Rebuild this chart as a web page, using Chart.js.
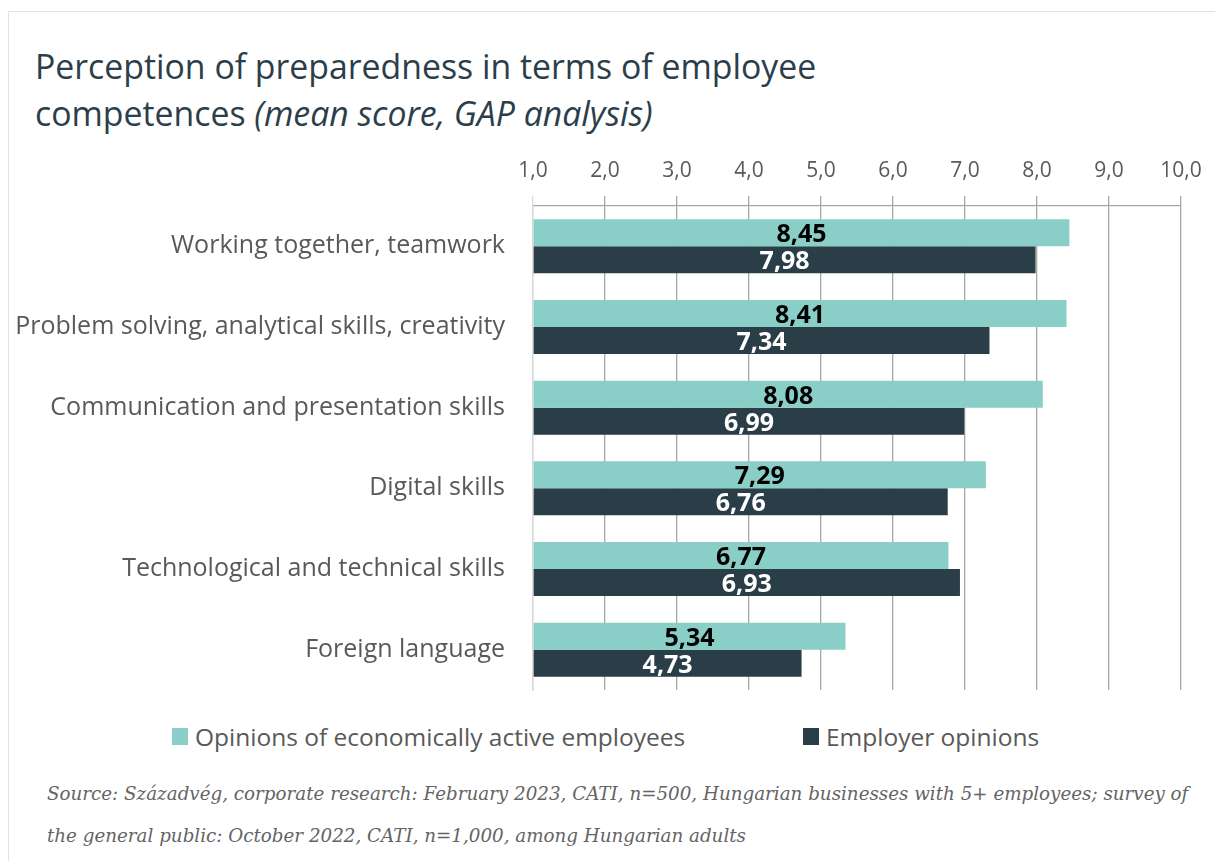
<!DOCTYPE html>
<html>
<head>
<meta charset="utf-8">
<script src="https://cdn.jsdelivr.net/npm/chart.js@4.4.1/dist/chart.umd.min.js"></script>
<style>
  html, body { margin: 0; padding: 0; background: #ffffff; }
  body { width: 1215px; height: 861px; position: relative; overflow: hidden; font-family: "Open Sans", sans-serif; }
  .card { position: absolute; left: 8px; top: 11px; right: 0; bottom: 0; border-left: 1px solid #e3e3e3; border-top: 1px solid #e3e3e3; }
  .title { position: absolute; left: 35px; top: 43px; font-size: 33.8px; line-height: 47px; color: #2b3e4a; white-space: nowrap; }
  .title i { font-style: italic; }
  #chartWrap { position: absolute; left: 0; top: 150px; width: 1215px; height: 545px; }
  .legend-item { position: absolute; top: 722px; height: 28px; display: flex; align-items: center; font-size: 24.5px; color: #595959; white-space: nowrap; }
  .legend-item span.box { width: 16px; height: 17px; margin-right: 7px; display: inline-block; }
  .source { position: absolute; left: 47px; top: 773px; font-family: "DejaVu Serif", serif; font-style: italic; font-size: 18.3px; line-height: 42px; color: #646464; white-space: nowrap; }
</style>
</head>
<body>
<div class="card"></div>
<div class="title">Perception of preparedness in terms of employee<br>competences <i>(mean score, GAP analysis)</i></div>
<div id="chartWrap"><canvas id="chart" width="1215" height="545"></canvas></div>
<div id="legend"></div>
<div class="source">Source: Századvég, corporate research: February 2023, CATI, n=500, Hungarian businesses with 5+ employees; survey of<br>the general public: October 2022, CATI, n=1,000, among Hungarian adults</div>
<script>
// Competence categories
const categories = [
  "Working together, teamwork",
  "Problem solving, analytical skills, creativity",
  "Communication and presentation skills",
  "Digital skills",
  "Technological and technical skills",
  "Foreign language"
];

// Mean scores per series
const employeeScores = [8.45, 8.41, 8.08, 7.29, 6.77, 5.34];
const employerScores = [7.98, 7.34, 6.99, 6.76, 6.93, 4.73];

const seriesNames = ["Opinions of economically active employees", "Employer opinions"];
const seriesColors = ["#89cfc7", "#2a3e48"];
const labelColors = ["#000000", "#ffffff"];

// Axis range and step
const axisMin = 1;
const axisMax = 10;
const axisStep = 1;

const fmt = v => v.toFixed(1).replace('.', ',');
const fmt2 = v => v.toFixed(2).replace('.', ',');

// Layout of the canvas relative to the page
const CANVAS_TOP = 150;
const PLOT_LEFT = 533;
const PLOT_TOP = 206;
const PAD = { top: 6, right: 34, bottom: 5, left: 0 };

// Value labels centred inside each bar
const valueLabels = {
  id: 'valueLabels',
  afterDatasetsDraw(chart) {
    const ctx = chart.ctx;
    ctx.save();
    ctx.font = 'bold 25px "Open Sans", sans-serif';
    ctx.textAlign = 'center';
    ctx.textBaseline = 'middle';
    chart.data.datasets.forEach((ds, di) => {
      const meta = chart.getDatasetMeta(di);
      meta.data.forEach((bar, i) => {
        const v = ds.data[i];
        const left = Math.max(bar.base, chart.chartArea.left);
        const cx = (bar.x + left) / 2;
        ctx.fillStyle = labelColors[di];
        ctx.fillText(fmt2(v), cx, bar.y + 2.5);
      });
    });
    ctx.restore();
  }
};

const chart = new Chart(document.getElementById('chart'), {
  type: 'bar',
  data: {
    labels: categories,
    datasets: [
      { label: seriesNames[0], data: employeeScores, backgroundColor: seriesColors[0], base: axisMin },
      { label: seriesNames[1], data: employerScores, backgroundColor: seriesColors[1], base: axisMin }
    ]
  },
  options: {
    indexAxis: 'y',
    responsive: false,
    animation: false,
    maintainAspectRatio: false,
    layout: { padding: PAD },
    datasets: { bar: { categoryPercentage: 0.67, barPercentage: 1.0 } },
    plugins: {
      legend: { display: false },
      tooltip: { enabled: false },
      title: { display: false }
    },
    scales: {
      x: {
        position: 'top',
        min: axisMin,
        max: axisMax,
        ticks: {
          stepSize: axisStep,
          padding: 12,
          color: '#595959',
          font: { family: '"Open Sans", sans-serif', size: 21 },
          callback: v => fmt(v)
        },
        grid: {
          color: ctx => (ctx.index === 0 ? '#d9d9d9' : '#a6a6a6'),
          lineWidth: 1.3,
          tickLength: 10,
          drawTicks: true
        },
        border: { display: true, color: '#a6a6a6', width: 1.3 },
        afterFit: scale => { scale.height = PLOT_TOP - CANVAS_TOP - PAD.top; }
      },
      y: {
        grid: { display: false },
        border: { display: true, color: '#d9d9d9', width: 1.5 },
        ticks: {
          padding: 20,
          color: '#595959',
          font: { family: '"Open Sans", sans-serif', size: 25 }
        },
        afterFit: scale => {
          scale.width = PLOT_LEFT - PAD.left;
          scale.paddingTop = 0;
          scale.paddingBottom = 0;
        }
      }
    }
  },
  plugins: [valueLabels]
});

// Legend built from the series definitions
const legendLefts = [172, 803];
const legend = document.getElementById('legend');
seriesNames.forEach((name, i) => {
  const item = document.createElement('div');
  item.className = 'legend-item';
  item.style.left = legendLefts[i] + 'px';
  const box = document.createElement('span');
  box.className = 'box';
  box.style.background = seriesColors[i];
  item.appendChild(box);
  item.appendChild(document.createTextNode(name));
  legend.appendChild(item);
});
</script>
</body>
</html>
